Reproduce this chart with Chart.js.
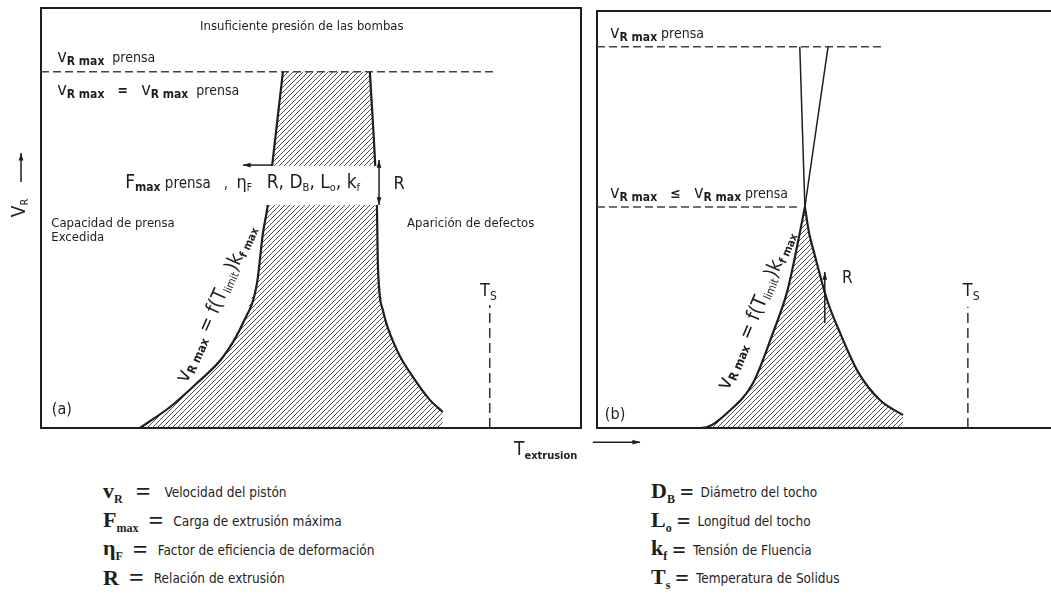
<!DOCTYPE html>
<html>
<head>
<meta charset="utf-8">
<script src="https://cdn.jsdelivr.net/npm/chart.js@4/dist/chart.umd.min.js"></script>
<style>
  html, body { margin: 0; padding: 0; background: #fff; width: 1051px; height: 596px; overflow: hidden; position: relative; }
  #boxA { position: absolute; left: 0; top: 0; width: 590px; height: 470px; }
  #boxB { position: absolute; left: 585px; top: 0; width: 480px; height: 470px; }
  .leg { position: absolute; top: 478px; color: #1e1e1e; font-family: "Liberation Serif", serif; }
  .row { height: 28.7px; display: flex; align-items: center; white-space: nowrap; }
  .sym { font-weight: bold; font-size: 22px; line-height: 1; }
  .sym sub { font-size: 12px; vertical-align: -5px; line-height: 1; }
  .eq { font-weight: bold; font-size: 26px; line-height: 1; }
  #legL .eq { margin: 0 10px 0 10px; }
  #legL .row:first-child .eq { margin: 0 14px 0 13px; }
  #legR .eq { margin: 0 7px 0 5px; font-size: 24px; }
  .desc { font-family: "DejaVu Sans Condensed", "Open Sans", sans-serif; font-size: 13.5px; }
</style>
</head>
<body>
<div id="boxA"><canvas id="chartA"></canvas></div>
<div id="boxB"><canvas id="chartB"></canvas></div>

<div class="leg" id="legL" style="left:103px">
  <div class="row"><span class="sym">v<sub>R</sub></span><span class="eq">=</span><span class="desc">Velocidad del pistón</span></div>
  <div class="row"><span class="sym">F<sub>max</sub></span><span class="eq">=</span><span class="desc">Carga de extrusión máxima</span></div>
  <div class="row"><span class="sym">η<sub>F</sub></span><span class="eq">=</span><span class="desc">Factor de eficiencia de deformación</span></div>
  <div class="row"><span class="sym">R</span><span class="eq">=</span><span class="desc">Relación de extrusión</span></div>
</div>
<div class="leg" id="legR" style="left:651px">
  <div class="row"><span class="sym">D<sub>B</sub></span><span class="eq">=</span><span class="desc">Diámetro del tocho</span></div>
  <div class="row"><span class="sym">L<sub>o</sub></span><span class="eq">=</span><span class="desc">Longitud del tocho</span></div>
  <div class="row"><span class="sym">k<sub>f</sub></span><span class="eq">=</span><span class="desc">Tensión de Fluencia</span></div>
  <div class="row"><span class="sym">T<sub>s</sub></span><span class="eq">=</span><span class="desc">Temperatura de Solidus</span></div>
</div>

<script>
const SANS = '"DejaVu Sans Condensed", "Open Sans", sans-serif';
const INK = '#1e1e1e';

// panel (a): press-limited window (temperature vs ram speed, arbitrary 0-100 units)
const aLeftT  = [18.3, 23.9, 28.9, 33.7, 37.4, 40.0, 41.1, 42.0, 42.8, 44.8];
const aLeftV  = [0, 5.0, 10.7, 16.9, 25.0, 34.5, 46.4, 53.1, 62.4, 84.8];
const aRightT = [60.9, 61.9, 62.2, 62.4, 63.3, 65.9, 68.9, 72.0, 74.4];
const aRightV = [84.8, 62.4, 53.1, 38.3, 28.1, 18.6, 12.1, 6.7, 3.8];
const aPressV = 84.8;
const aPressEndT = 83.7;
const aSolidusT = 83.1;
const aSolidusTopV = 29.3;
const aBandV = [53.1, 62.4];

// panel (b): limit below the press speed
const bLeftT  = [22.2, 23.8, 28.1, 33.7, 38.0, 41.0, 42.3, 43.8, 44.9];
const bLeftV  = [0, 0.2, 3.6, 10.8, 22.8, 32.4, 38.6, 46.8, 53.0];
const bRightT = [44.9, 45.8, 46.9, 49.7, 52.5, 56.4, 61.1, 66.1];
const bRightV = [53.0, 46.8, 42.0, 30.7, 22.8, 13.4, 6.7, 3.1];
const bPressV = 91.4;
const bPressEndT = 62.2;
const bLimitV = 53.0;
const bLimitEndT = 43.8;
const bUpperLeftT = [44.9, 49.9];
const bUpperRightT = [44.9, 43.8];
const bSolidusT = 80.1;
const bSolidusTopV = 29.0;

function pts(xs, ys) {
    return xs.map((x, i) => ({ x: x, y: ys[i] }));
}

function line(data, extra) {
    return Object.assign({
        data: data, showLine: true, pointRadius: 0, borderColor: INK,
        borderWidth: 2.2, fill: false, tension: 0, order: 1
    }, extra);
}

function makeHatch() {
    const c = document.createElement('canvas');
    c.width = 5; c.height = 5;
    const g = c.getContext('2d');
    g.strokeStyle = '#3c3c3c';
    g.lineWidth = 0.9;
    g.beginPath();
    g.moveTo(0, 5); g.lineTo(5, 0);
    g.moveTo(-1, 1); g.lineTo(1, -1);
    g.moveTo(4, 6); g.lineTo(6, 4);
    g.stroke();
    return g.createPattern(c, 'repeat');
}

function font(size, bold) {
    return (bold ? 'bold ' : '') + size + 'px ' + SANS;
}

// parts: [text, size, bold, dy]
function richText(ctx, x, y, parts, align) {
    let w = 0;
    parts.forEach(p => { ctx.font = font(p[1], p[2]); w += ctx.measureText(p[0]).width; });
    let cx = align === 'center' ? x - w / 2 : (align === 'right' ? x - w : x);
    ctx.fillStyle = INK;
    ctx.textBaseline = 'alphabetic';
    ctx.textAlign = 'left';
    parts.forEach(p => {
        ctx.font = font(p[1], p[2]);
        ctx.fillText(p[0], cx, y + (p[3] || 0));
        cx += ctx.measureText(p[0]).width;
    });
}

function arrow(ctx, x1, y1, x2, y2, both) {
    ctx.save();
    ctx.strokeStyle = INK;
    ctx.fillStyle = INK;
    ctx.lineWidth = 1.5;
    ctx.beginPath();
    ctx.moveTo(x1, y1);
    ctx.lineTo(x2, y2);
    ctx.stroke();
    const head = (ax, ay, bx, by) => {
        const a = Math.atan2(ay - by, ax - bx);
        ctx.beginPath();
        ctx.moveTo(ax, ay);
        ctx.lineTo(ax - 8 * Math.cos(a - 0.3), ay - 8 * Math.sin(a - 0.3));
        ctx.lineTo(ax - 8 * Math.cos(a + 0.3), ay - 8 * Math.sin(a + 0.3));
        ctx.closePath();
        ctx.fill();
    };
    head(x2, y2, x1, y1);
    if (both) head(x1, y1, x2, y2);
    ctx.restore();
}

function frame(chart) {
    const { ctx, chartArea: a } = chart;
    ctx.save();
    ctx.strokeStyle = INK;
    ctx.lineWidth = 2;
    ctx.strokeRect(a.left, a.top, a.right - a.left, a.bottom - a.top);
    ctx.restore();
}

function mapper(chart) {
    const sx = chart.scales.x, sy = chart.scales.y;
    return (t, v) => [sx.getPixelForValue(t), sy.getPixelForValue(v)];
}

function vr() {
    return [['v', 18, false, 0], ['R max', 12, true, 3]];
}

function limitLabel(ctx, x, y, angle) {
    ctx.save();
    ctx.translate(x, y);
    ctx.rotate(angle);
    richText(ctx, 0, 6, [
        ['v', 21, false, 0], ['R max', 12, true, 3], [' = f(T', 20, false, 0],
        ['limit', 11, false, 3], [')k', 20, false, 0], ['f max', 11, true, 3]
    ], 'center');
    ctx.restore();
}

const hatch = makeHatch();

function baseOptions(padding) {
    return {
        responsive: true,
        maintainAspectRatio: false,
        animation: false,
        events: [],
        layout: { padding: padding },
        plugins: { legend: { display: false }, tooltip: { enabled: false } },
        scales: {
            x: { type: 'linear', min: 0, max: 100, display: false },
            y: { type: 'linear', min: 0, max: 100, display: false }
        }
    };
}

const notesA = {
    id: 'notesA',
    beforeDatasetsDraw(chart) { frame(chart); },
    afterDatasetsDraw(chart) {
        const ctx = chart.ctx;
        const P = mapper(chart);

        // white band through the window carrying the parameter list
        const b0 = P(40, aBandV[1]), b1 = P(62.9, aBandV[0]);
        ctx.fillStyle = '#fff';
        ctx.fillRect(b0[0], b0[1], b1[0] - b0[0], b1[1] - b0[1]);

        let p = P(48.3, 94.8);
        richText(ctx, p[0], p[1], [['Insuficiente presión de las bombas', 13, false, 0]], 'center');
        p = P(3.0, 87.1);
        richText(ctx, p[0], p[1], vr().concat([['  prensa', 14, false, 0]]), 'left');
        p = P(3.0, 79.3);
        richText(ctx, p[0], p[1], vr().concat([['   =   ', 14, true, 0]], vr(), [['  prensa', 14, false, 0]]), 'left');

        p = P(15.6, 57.1);
        richText(ctx, p[0], p[1], [['F', 19, false, 0], ['max', 12, true, 3], [' prensa', 15, false, 0],
            ['   ,  ', 15, false, 0], ['η', 18, false, 0], ['F', 10, false, 3]], 'left');
        p = P(41.8, 57.1);
        richText(ctx, p[0], p[1], [['R, D', 19, false, 0], ['B', 11, false, 3], [', L', 19, false, 0],
            ['o', 11, false, 3], [', k', 19, false, 0], ['f', 11, false, 3]], 'left');
        p = P(65.3, 56.9);
        richText(ctx, p[0], p[1], [['R', 18, false, 0]], 'left');

        let q = P(62.6, 53.1), r = P(62.6, 63.8);
        arrow(ctx, q[0], q[1], r[0], r[1], true);
        q = P(42.8, 62.6); r = P(37.4, 62.6);
        arrow(ctx, q[0], q[1], r[0], r[1], false);

        p = P(1.9, 47.9);
        richText(ctx, p[0], p[1], [['Capacidad de prensa', 13, false, 0]], 'left');
        p = P(1.9, 44.5);
        richText(ctx, p[0], p[1], [['Excedida', 13, false, 0]], 'left');
        p = P(67.8, 47.9);
        richText(ctx, p[0], p[1], [['Aparición de defectos', 13, false, 0]], 'left');

        p = P(81.3, 31.4);
        richText(ctx, p[0], p[1], [['T', 18, false, 0], ['S', 12, false, 4]], 'left');
        p = P(2.0, 3.3);
        richText(ctx, p[0], p[1], [['(a)', 16, false, 0]], 'left');

        p = P(32.4, 29.6);
        limitLabel(ctx, p[0], p[1], -66 * Math.PI / 180);

        // axis titles outside the frame
        p = P(-4.3, 52.4);
        ctx.save();
        ctx.translate(p[0], p[1]);
        ctx.rotate(-Math.PI / 2);
        richText(ctx, 0, 7, [['V', 19, false, 0], ['R', 11, false, 3]], 'center');
        ctx.restore();
        q = P(-3.7, 58.6); r = P(-3.7, 65.5);
        arrow(ctx, q[0], q[1], r[0], r[1], false);

        p = P(87.6, -6.4);
        richText(ctx, p[0], p[1], [['T', 19, false, 0], ['extrusion', 11, true, 4]], 'left');
    }
};

const notesB = {
    id: 'notesB',
    beforeDatasetsDraw(chart) { frame(chart); },
    afterDatasetsDraw(chart) {
        const ctx = chart.ctx;
        const P = mapper(chart);

        let p = P(2.8, 93.5);
        richText(ctx, p[0], p[1], vr().concat([[' prensa', 14, false, 0]]), 'left');
        p = P(2.8, 55.2);
        richText(ctx, p[0], p[1], vr().concat([['   ≤   ', 14, true, 0]], vr(), [[' prensa', 14, false, 0]]), 'left');

        let q = P(49.2, 25.2), r = P(49.2, 37.4);
        arrow(ctx, q[0], q[1], r[0], r[1], false);
        p = P(52.9, 34.8);
        richText(ctx, p[0], p[1], [['R', 17, false, 0]], 'left');

        p = P(79.0, 31.7);
        richText(ctx, p[0], p[1], [['T', 18, false, 0], ['S', 12, false, 4]], 'left');
        p = P(1.7, 2.2);
        richText(ctx, p[0], p[1], [['(b)', 16, false, 0]], 'left');

        p = P(34.4, 28.2);
        limitLabel(ctx, p[0], p[1], -67 * Math.PI / 180);

        q = P(-0.9, -3.4); r = P(9.3, -3.4);
        arrow(ctx, q[0], q[1], r[0], r[1], false);
    }
};

new Chart(document.getElementById('chartA'), {
    type: 'scatter',
    data: {
        datasets: [
            line(pts(aLeftT.concat(aRightT), aLeftV.concat(aRightV)), {
                borderWidth: 0, borderColor: 'rgba(0,0,0,0)', fill: 'origin', backgroundColor: hatch, order: 5
            }),
            line(pts(aLeftT, aLeftV), { cubicInterpolationMode: 'monotone' }),
            line(pts(aRightT, aRightV), { cubicInterpolationMode: 'monotone' }),
            line(pts([0, aPressEndT], [aPressV, aPressV]), { borderWidth: 1.5, borderColor: '#444', borderDash: [8, 4] }),
            line(pts([aSolidusT, aSolidusT], [0, aSolidusTopV]), { borderWidth: 1.5, borderColor: '#333', borderDash: [10, 5] })
        ]
    },
    options: baseOptions({ left: 41, top: 8, right: 9, bottom: 42 }),
    plugins: [notesA]
});

new Chart(document.getElementById('chartB'), {
    type: 'scatter',
    data: {
        datasets: [
            line(pts(bLeftT.concat(bRightT.slice(1)), bLeftV.concat(bRightV.slice(1))), {
                borderWidth: 0, borderColor: 'rgba(0,0,0,0)', fill: 'origin', backgroundColor: hatch, order: 5
            }),
            line(pts(bLeftT, bLeftV), { cubicInterpolationMode: 'monotone' }),
            line(pts(bRightT, bRightV), { cubicInterpolationMode: 'monotone' }),
            line(pts(bUpperLeftT, [bLimitV, bPressV]), { borderWidth: 1.5 }),
            line(pts(bUpperRightT, [bLimitV, bPressV]), { borderWidth: 1.5 }),
            line(pts([0, bPressEndT], [bPressV, bPressV]), { borderWidth: 1.5, borderColor: '#444', borderDash: [8, 4] }),
            line(pts([0, bLimitEndT], [bLimitV, bLimitV]), { borderWidth: 1.5, borderColor: '#444', borderDash: [8, 4] }),
            line(pts([bSolidusT, bSolidusT], [0, bSolidusTopV]), { borderWidth: 1.5, borderColor: '#333', borderDash: [10, 5] })
        ]
    },
    options: baseOptions({ left: 12, top: 11, right: 5, bottom: 42 }),
    plugins: [notesB]
});
</script>
</body>
</html>
